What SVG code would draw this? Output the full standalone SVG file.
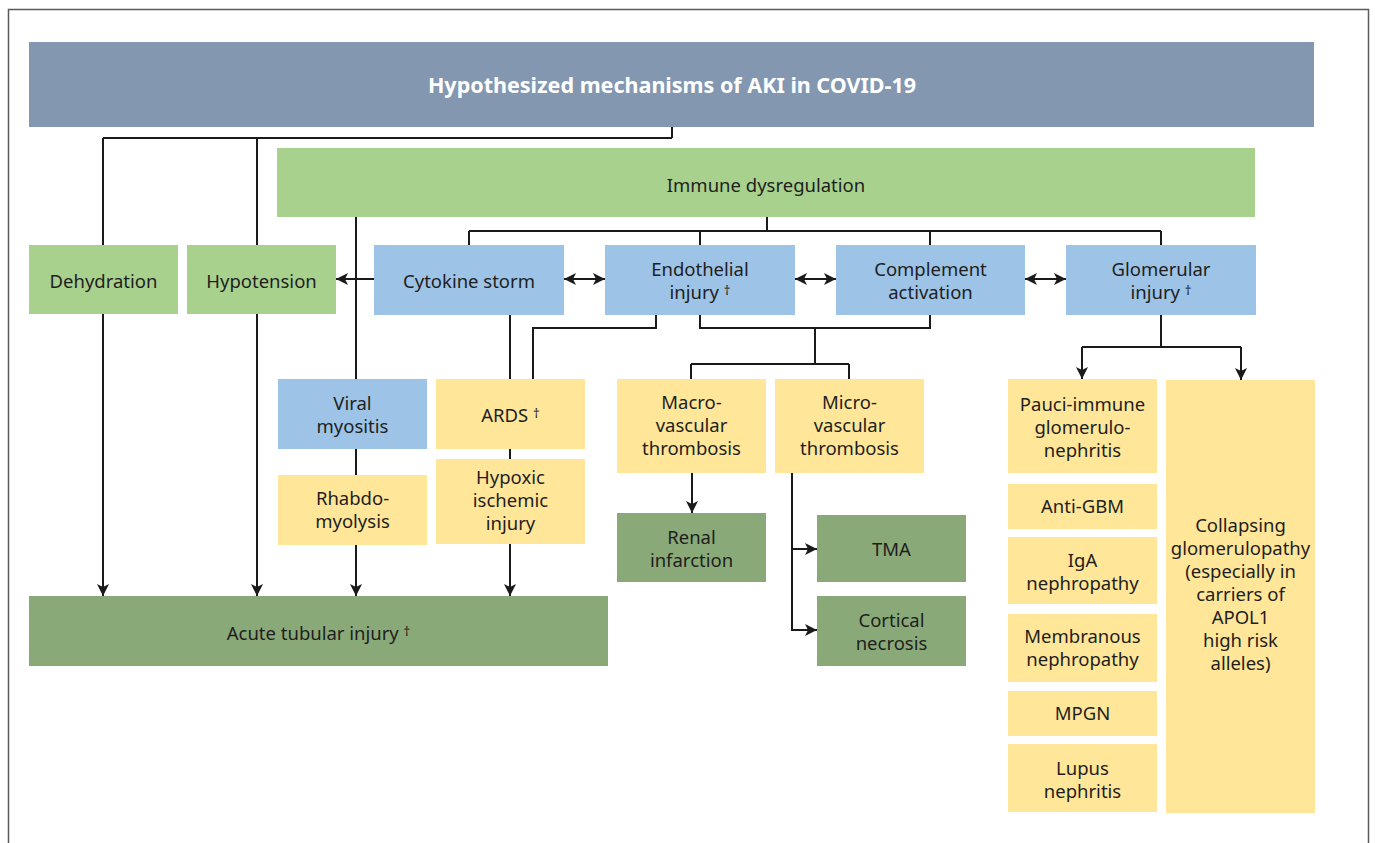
<svg xmlns="http://www.w3.org/2000/svg" width="1375" height="843" viewBox="0 0 1375 843">
<defs>
<marker id="ah" viewBox="0 0 12 12" refX="12" refY="6" markerWidth="12" markerHeight="12" markerUnits="userSpaceOnUse" orient="auto-start-reverse">
<path d="M0,0 L12,6 L0,12 L3,6 z" fill="#1a1a1a"/>
</marker>
</defs>
<style>
.t{font-family:"Noto Sans","Open Sans","Liberation Sans",sans-serif;font-size:18.5px;fill:#1e1e1e;text-anchor:middle}
.h{font-family:"Noto Sans","Open Sans","Liberation Sans",sans-serif;font-size:21.5px;font-weight:bold;fill:#ffffff;text-anchor:middle}
.d{font-size:13px}
.c{fill:none;stroke:#1a1a1a;stroke-width:2}
.a{marker-end:url(#ah)}
.b{marker-start:url(#ah);marker-end:url(#ah)}
.hd{fill:#8397b0}
.g{fill:#a9d18e}
.bl{fill:#9dc3e6}
.y{fill:#ffe699}
.dg{fill:#8aa978}
</style>
<rect x="8.5" y="9.5" width="1360" height="900" fill="#ffffff" stroke="#5a5a5a" stroke-width="1.5"/>
<g id="connectors">
<path class="c" d="M103,138 H672 M672,127 V138"/>
<path class="c a" d="M103,138 V596"/>
<path class="c a" d="M257,138 V596"/>
<path class="c a" d="M356,217 V596"/>
<path class="c" d="M767,217 V231 M469,231 H1161 M469,231 V245 M700,231 V245 M930,231 V245 M1161,231 V245"/>
<path class="c a" d="M374,279 H336"/>
<path class="c b" d="M564,279 H605"/>
<path class="c b" d="M795,279 H836"/>
<path class="c b" d="M1025,279 H1066"/>
<path class="c a" d="M510,315 V596"/>
<path class="c" d="M656,315 V328 H533 V379"/>
<path class="c" d="M700,315 V328 H930 V315 M815,328 V364 M691,364 H849 M691,364 V379 M849,364 V379"/>
<path class="c a" d="M692,473 V513"/>
<path class="c a" d="M792,473 V630 H817"/>
<path class="c a" d="M792,549 H817"/>
<path class="c" d="M1161,315 V347 M1082,347 H1241"/>
<path class="c a" d="M1082,347 V379"/>
<path class="c a" d="M1241,347 V380"/>
</g>
<g id="header"><rect class="hd" x="29" y="42" width="1285" height="85"/><text class="h" x="672" y="92.5">Hypothesized mechanisms of AKI in COVID-19</text></g>
<g id="immune"><rect class="g" x="277" y="148" width="978" height="69"/><text class="t" x="766" y="191.5">Immune dysregulation</text></g>
<g id="dehydration"><rect class="g" x="29" y="245" width="149" height="69"/><text class="t" x="103.5" y="287.5">Dehydration</text></g>
<g id="hypotension"><rect class="g" x="187" y="245" width="149" height="69"/><text class="t" x="261.5" y="287.5">Hypotension</text></g>
<g id="cytokine"><rect class="bl" x="374" y="245" width="190" height="70"/><text class="t" x="469" y="287.5">Cytokine storm</text></g>
<g id="endothelial"><rect class="bl" x="605" y="245" width="190" height="70"/><text class="t" x="700" y="275.5">Endothelial</text><text class="t" x="700" y="298.5">injury <tspan class="d" dy="-4">†</tspan></text></g>
<g id="complement"><rect class="bl" x="836" y="245" width="189" height="70"/><text class="t" x="930.5" y="275.5">Complement</text><text class="t" x="930.5" y="298.5">activation</text></g>
<g id="glomerular"><rect class="bl" x="1066" y="245" width="190" height="70"/><text class="t" x="1161" y="275.5">Glomerular</text><text class="t" x="1161" y="298.5">injury <tspan class="d" dy="-4">†</tspan></text></g>
<g id="viral"><rect class="bl" x="278" y="379" width="149" height="70"/><text class="t" x="352.5" y="409.5">Viral</text><text class="t" x="352.5" y="432.5">myositis</text></g>
<g id="ards"><rect class="y" x="436" y="379" width="149" height="70"/><text class="t" x="510.5" y="421.5">ARDS <tspan class="d" dy="-4">†</tspan></text></g>
<g id="rhabdo"><rect class="y" x="278" y="475" width="149" height="70"/><text class="t" x="352.5" y="504.5">Rhabdo-</text><text class="t" x="352.5" y="527.5">myolysis</text></g>
<g id="hypoxic"><rect class="y" x="436" y="459" width="149" height="85"/><text class="t" x="510.5" y="483.5">Hypoxic</text><text class="t" x="510.5" y="506.5">ischemic</text><text class="t" x="510.5" y="529.5">injury</text></g>
<g id="macro"><rect class="y" x="617" y="379" width="149" height="94"/><text class="t" x="691.5" y="408.5">Macro-</text><text class="t" x="691.5" y="431.5">vascular</text><text class="t" x="691.5" y="454.5">thrombosis</text></g>
<g id="micro"><rect class="y" x="775" y="379" width="149" height="94"/><text class="t" x="849.5" y="408.5">Micro-</text><text class="t" x="849.5" y="431.5">vascular</text><text class="t" x="849.5" y="454.5">thrombosis</text></g>
<g id="renal"><rect class="dg" x="617" y="513" width="149" height="69"/><text class="t" x="691.5" y="543.5">Renal</text><text class="t" x="691.5" y="566.5">infarction</text></g>
<g id="tma"><rect class="dg" x="817" y="515" width="149" height="67"/><text class="t" x="891.5" y="555.5">TMA</text></g>
<g id="cortical"><rect class="dg" x="817" y="596" width="149" height="70"/><text class="t" x="891.5" y="626.5">Cortical</text><text class="t" x="891.5" y="649.5">necrosis</text></g>
<g id="atn"><rect class="dg" x="29" y="596" width="579" height="70"/><text class="t" x="318.5" y="639.5">Acute tubular injury <tspan class="d" dy="-4">†</tspan></text></g>
<g id="pauci"><rect class="y" x="1008" y="379" width="149" height="94"/><text class="t" x="1082.5" y="410.5">Pauci-immune</text><text class="t" x="1082.5" y="433.5">glomerulo-</text><text class="t" x="1082.5" y="456.5">nephritis</text></g>
<g id="antigbm"><rect class="y" x="1008" y="484" width="149" height="45"/><text class="t" x="1082.5" y="512.5">Anti-GBM</text></g>
<g id="iga"><rect class="y" x="1008" y="537" width="149" height="67"/><text class="t" x="1082.5" y="566.5">IgA</text><text class="t" x="1082.5" y="589.5">nephropathy</text></g>
<g id="membranous"><rect class="y" x="1008" y="614" width="149" height="68"/><text class="t" x="1082.5" y="642.5">Membranous</text><text class="t" x="1082.5" y="665.5">nephropathy</text></g>
<g id="mpgn"><rect class="y" x="1008" y="691" width="149" height="45"/><text class="t" x="1082.5" y="719.5">MPGN</text></g>
<g id="lupus"><rect class="y" x="1008" y="744" width="149" height="68"/><text class="t" x="1082.5" y="774.5">Lupus</text><text class="t" x="1082.5" y="797.5">nephritis</text></g>
<g id="collapsing"><rect class="y" x="1166" y="380" width="149" height="433"/><text class="t" x="1240.5" y="531.5">Collapsing</text><text class="t" x="1240.5" y="554.5">glomerulopathy</text><text class="t" x="1240.5" y="577.5">(especially in</text><text class="t" x="1240.5" y="600.5">carriers of</text><text class="t" x="1240.5" y="623.5">APOL1</text><text class="t" x="1240.5" y="646.5">high risk</text><text class="t" x="1240.5" y="669.5">alleles)</text></g>
</svg>
